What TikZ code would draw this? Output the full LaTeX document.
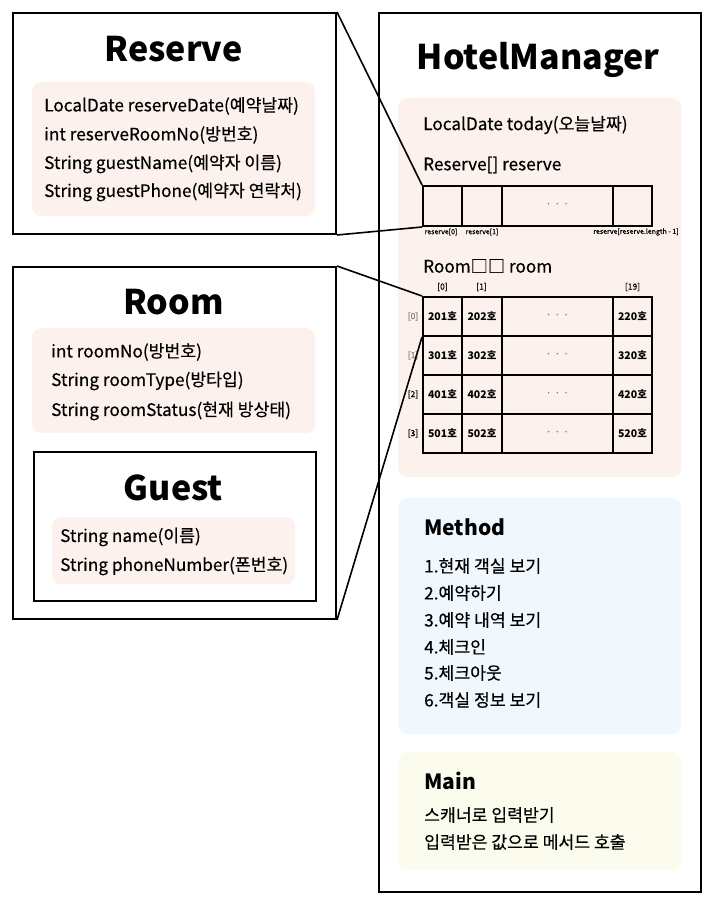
\documentclass[tikz,border=0pt]{standalone}
\usepackage{fontspec}
\setmainfont{Noto Sans CJK KR}
\newfontfamily\medfont{Noto Sans CJK KR}[FakeBold=0.4]
\definecolor{pinkbg}{RGB}{253,241,237}
\definecolor{bluebg}{RGB}{240,247,253}
\definecolor{yellowbg}{RGB}{251,252,238}
\begin{document}
\begin{tikzpicture}[x=1pt,y=-1pt,
  outerbox/.style={draw, line width=2pt, inner sep=0pt, anchor=north west},
  softbox/.style={draw=none, rounded corners=9pt, inner sep=0pt, anchor=north west},
  titletext/.style={inner sep=0pt, font=\fontsize{34}{40}\selectfont\bfseries},
  attr/.style={anchor=west, inner sep=0pt, font=\medfont\fontsize{17.2}{20}\selectfont},
  head/.style={anchor=west, inner sep=0pt, font=\fontsize{21}{25}\selectfont\bfseries},
  cell/.style={draw, line width=2pt, inner sep=0pt, minimum height=39pt, font=\fontsize{10.5}{12}\selectfont\bfseries},
  dots/.style={text=gray, font=\fontsize{12}{14}\selectfont},
  idx/.style={inner sep=0pt, font=\medfont\fontsize{8.5}{10}\selectfont},
  tiny/.style={inner sep=0pt, font=\medfont\fontsize{7}{8}\selectfont},
  conn/.style={line width=1.6pt}]
\useasboundingbox (0,0) rectangle (715,906);

% ---------- Reserve ----------
\node[outerbox, minimum width=323pt, minimum height=221pt] (reserveBox) at (12,12) {};
\node[titletext] (reserveTitle) at (173.5,49) {Reserve};
\node[softbox, fill=pinkbg, minimum width=283pt, minimum height=134pt] (reserveAttr) at (32,82) {};
\node[attr] (ra1) at (44,106) {LocalDate reserveDate(예약날짜)};
\node[attr] (ra2) at (44,135) {int reserveRoomNo(방번호)};
\node[attr] (ra3) at (44,164) {String guestName(예약자 이름)};
\node[attr] (ra4) at (44,192) {String guestPhone(예약자 연락처)};

% ---------- Room ----------
\node[outerbox, minimum width=323pt, minimum height=352pt] (roomBox) at (12,266) {};
\node[titletext] (roomTitle) at (173.5,302) {Room};
\node[softbox, fill=pinkbg, minimum width=283pt, minimum height=105pt] (roomAttr) at (32,328) {};
\node[attr] (oa1) at (51,352) {int roomNo(방번호)};
\node[attr] (oa2) at (51,381) {String roomType(방타입)};
\node[attr] (oa3) at (51,411) {String roomStatus(현재 방상태)};

% ---------- Guest ----------
\node[outerbox, minimum width=282pt, minimum height=149pt] (guestBox) at (33,451) {};
\node[titletext] (guestTitle) at (173.5,488) {Guest};
\node[softbox, fill=pinkbg, minimum width=243pt, minimum height=67pt] (guestAttr) at (52,517) {};
\node[attr] (ga1) at (60,537) {String name(이름)};
\node[attr] (ga2) at (60,566) {String phoneNumber(폰번호)};

% ---------- HotelManager ----------
\draw[gray!55, line width=1.2pt] (701.5,14) -- (701.5,892.6) -- (380,892.6);
\node[outerbox, minimum width=322pt, minimum height=879pt] (hmBox) at (378,12) {};
\node[titletext] (hmTitle) at (538,60) {HotelManager};
\node[softbox, fill=pinkbg, minimum width=283pt, minimum height=379pt] (fieldArea) at (398,98) {};
\node[attr] (today) at (423,125) {LocalDate today(오늘날짜)};
\node[attr] (resLabel) at (423,165) {Reserve[] reserve};

% reserve array
\node[cell, minimum width=39pt, minimum height=40pt] (res0) at (442.5,206) {};
\node[cell, minimum width=40pt, minimum height=40pt] (res1) at (482,206) {};
\node[cell, minimum width=111pt, minimum height=40pt, dots] (resDots) at (557.5,206) {·\,·\,·};
\node[cell, minimum width=39pt, minimum height=40pt] (resLast) at (632.5,206) {};
\node[tiny] (resIdx0) at (441,232) {reserve[0]};
\node[tiny] (resIdx1) at (482,232) {reserve[1]};
\node[tiny] (resIdxL) at (636,232) {reserve[reserve.length - 1]};

% room array
\node[attr] (roomLabel) at (423,266) {Room□□ room};
\node[idx] (colIdx0) at (442.5,287) {[0]};
\node[idx] (colIdx1) at (481.5,287) {[1]};
\node[idx] (colIdx19) at (632.5,287) {[19]};
\foreach \r/\y/\f/\c in {0/316.5/2/gray,1/355.5/3/gray,2/394.5/4/black,3/433.5/5/black} {
  \node[idx, text=\c] (rowIdx\r) at (413,\y) {[\r]};
  \node[cell, minimum width=39pt] (m\r a) at (442.5,\y) {\f01호};
  \node[cell, minimum width=40pt] (m\r b) at (482,\y) {\f02호};
  \node[cell, minimum width=111pt, dots] (m\r c) at (557.5,\y) {·\,·\,·};
  \node[cell, minimum width=39pt] (m\r d) at (632.5,\y) {\f20호};
}

% Method
\node[softbox, fill=bluebg, minimum width=283pt, minimum height=236pt] (methodArea) at (398,498) {};
\node[head] (methodHead) at (424,527) {Method};
\node[attr] (me1) at (424,566) {1.현재 객실 보기};
\node[attr] (me2) at (424,593) {2.예약하기};
\node[attr] (me3) at (424,620) {3.예약 내역 보기};
\node[attr] (me4) at (424,647) {4.체크인};
\node[attr] (me5) at (424,673) {5.체크아웃};
\node[attr] (me6) at (424,700) {6.객실 정보 보기};

% Main
\node[softbox, fill=yellowbg, minimum width=283pt, minimum height=118pt] (mainArea) at (398,752) {};
\node[head] (mainHead) at (424,781) {Main};
\node[attr] (mn1) at (424,815) {스캐너로 입력받기};
\node[attr] (mn2) at (424,842) {입력받은 값으로 메서드 호출};

% connectors
\draw[conn] (reserveBox.north east) -- (res0.north west);
\draw[conn] (reserveBox.south east) -- (res0.south west);
\draw[conn] (roomBox.north east) -- (m0a.north west);
\draw[conn] (roomBox.south east) -- (m0a.south west);
\end{tikzpicture}
\end{document}
